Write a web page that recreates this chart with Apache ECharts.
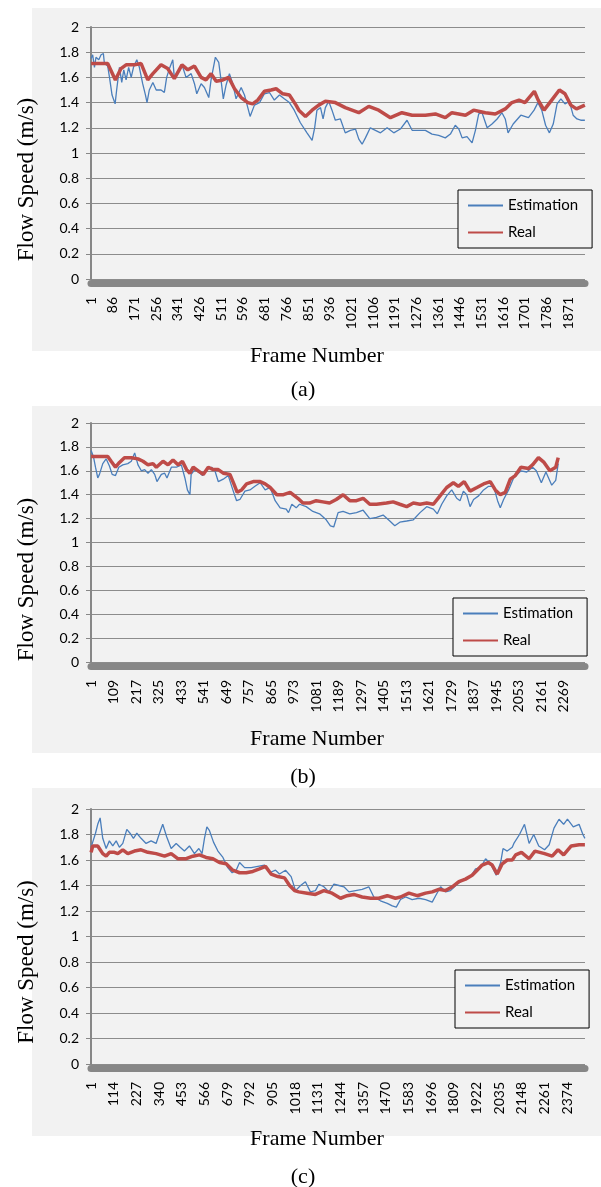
<!DOCTYPE html>
<html>
<head>
    <meta charset="utf-8">
    <title>Flow Speed</title>
    <script src="https://cdn.jsdelivr.net/npm/echarts/dist/echarts.min.js"></script>
</head>
<body style="margin: 0; background: #fff">
<div id="main" style="width: 601px; height: 1187px"></div>

<script type="text/javascript">
    // frame counts of each clip (category axis length) and label step
    var framesA = 1936, stepA = 85;
    var framesB = 2370, stepB = 108;
    var framesC = 2462, stepC = 113;

    // [frame index, speed]
    var estA = [[0,1.75],[6,1.78],[13,1.68],[19,1.76],[30,1.74],[39,1.78],[48,1.79],[52,1.71],[65,1.69],[72,1.60],[82,1.46],[94,1.39],[100,1.50],[111,1.68],[120,1.56],[128,1.66],[137,1.58],[147,1.68],[157,1.60],[166,1.68],[179,1.74],[189,1.68],[202,1.55],[213,1.46],[219,1.40],[228,1.50],[242,1.56],[255,1.50],[274,1.50],[287,1.48],[296,1.60],[307,1.67],[320,1.74],[326,1.60],[340,1.63],[356,1.70],[372,1.60],[392,1.63],[405,1.55],[414,1.47],[431,1.55],[444,1.52],[461,1.44],[470,1.58],[487,1.76],[500,1.72],[509,1.58],[518,1.43],[529,1.54],[542,1.63],[555,1.55],[568,1.43],[588,1.52],[601,1.46],[614,1.36],[623,1.29],[640,1.38],[660,1.40],[679,1.47],[699,1.48],[718,1.42],[738,1.46],[757,1.43],[777,1.40],[796,1.34],[820,1.24],[846,1.16],[866,1.10],[876,1.20],[885,1.34],[899,1.36],[909,1.27],[918,1.36],[931,1.41],[944,1.34],[957,1.26],[977,1.27],[996,1.16],[1016,1.18],[1036,1.19],[1049,1.11],[1062,1.07],[1075,1.12],[1094,1.20],[1114,1.18],[1134,1.16],[1160,1.20],[1186,1.16],[1212,1.19],[1238,1.26],[1258,1.18],[1284,1.18],[1310,1.18],[1336,1.15],[1362,1.14],[1388,1.12],[1408,1.15],[1427,1.22],[1441,1.19],[1454,1.12],[1473,1.13],[1493,1.08],[1506,1.18],[1519,1.31],[1532,1.32],[1552,1.20],[1571,1.23],[1591,1.27],[1610,1.32],[1623,1.27],[1634,1.16],[1654,1.23],[1684,1.30],[1714,1.28],[1736,1.34],[1751,1.40],[1766,1.34],[1781,1.22],[1796,1.16],[1811,1.23],[1826,1.39],[1841,1.43],[1857,1.39],[1874,1.41],[1889,1.30],[1904,1.27],[1919,1.26],[1935,1.26]];
    var realA = [[0,1.71],[65,1.71],[95,1.58],[117,1.67],[137,1.70],[170,1.70],[196,1.71],[222,1.58],[242,1.63],[274,1.70],[300,1.67],[326,1.59],[356,1.70],[379,1.66],[405,1.69],[431,1.60],[450,1.58],[470,1.63],[490,1.57],[516,1.58],[539,1.60],[562,1.51],[588,1.44],[614,1.40],[633,1.39],[653,1.42],[679,1.49],[705,1.50],[725,1.51],[751,1.47],[777,1.46],[803,1.38],[814,1.34],[840,1.29],[866,1.34],[892,1.38],[918,1.41],[957,1.40],[996,1.36],[1049,1.32],[1088,1.37],[1127,1.34],[1173,1.28],[1218,1.32],[1258,1.30],[1310,1.30],[1349,1.31],[1388,1.28],[1414,1.32],[1467,1.30],[1499,1.34],[1545,1.32],[1584,1.31],[1623,1.35],[1649,1.40],[1677,1.42],[1700,1.40],[1737,1.49],[1752,1.42],[1775,1.34],[1805,1.42],[1835,1.50],[1857,1.47],[1880,1.38],[1902,1.35],[1935,1.38]];

    var estB = [[0,1.77],[11,1.72],[21,1.63],[32,1.54],[40,1.57],[56,1.66],[72,1.70],[88,1.64],[101,1.57],[117,1.56],[133,1.63],[152,1.65],[176,1.66],[193,1.68],[209,1.75],[225,1.65],[241,1.60],[257,1.61],[273,1.58],[289,1.61],[305,1.57],[316,1.51],[337,1.57],[353,1.58],[364,1.54],[385,1.63],[409,1.63],[433,1.65],[450,1.54],[462,1.44],[474,1.40],[480,1.57],[498,1.61],[522,1.58],[535,1.56],[554,1.61],[578,1.63],[594,1.60],[610,1.51],[634,1.53],[658,1.56],[682,1.43],[698,1.35],[714,1.36],[738,1.43],[762,1.44],[786,1.47],[811,1.50],[835,1.44],[859,1.46],[883,1.35],[907,1.29],[936,1.28],[947,1.25],[963,1.32],[984,1.29],[1000,1.32],[1032,1.30],[1064,1.26],[1096,1.24],[1128,1.19],[1148,1.14],[1164,1.13],[1185,1.25],[1209,1.26],[1241,1.24],[1273,1.25],[1305,1.27],[1337,1.20],[1369,1.21],[1401,1.23],[1433,1.18],[1457,1.14],[1481,1.17],[1514,1.18],[1546,1.19],[1578,1.25],[1610,1.30],[1642,1.28],[1661,1.24],[1682,1.32],[1706,1.39],[1730,1.44],[1754,1.37],[1770,1.35],[1786,1.43],[1802,1.40],[1818,1.30],[1835,1.36],[1859,1.39],[1883,1.44],[1907,1.47],[1931,1.47],[1950,1.35],[1963,1.29],[1979,1.36],[2003,1.44],[2027,1.54],[2035,1.53],[2062,1.60],[2090,1.59],[2118,1.63],[2136,1.60],[2160,1.50],[2182,1.59],[2210,1.48],[2229,1.52],[2241,1.66]];
    var realB = [[0,1.72],[80,1.72],[96,1.68],[117,1.63],[136,1.67],[160,1.71],[193,1.71],[225,1.70],[249,1.68],[273,1.65],[297,1.66],[313,1.63],[345,1.68],[369,1.65],[393,1.69],[417,1.65],[438,1.68],[458,1.61],[474,1.58],[490,1.63],[514,1.60],[538,1.57],[562,1.63],[586,1.61],[610,1.61],[634,1.58],[666,1.57],[685,1.49],[701,1.42],[722,1.44],[746,1.49],[778,1.51],[811,1.51],[835,1.49],[859,1.46],[891,1.40],[923,1.40],[955,1.42],[992,1.37],[1016,1.33],[1048,1.33],[1080,1.35],[1112,1.34],[1144,1.33],[1176,1.36],[1209,1.40],[1241,1.35],[1273,1.35],[1305,1.37],[1337,1.32],[1369,1.32],[1417,1.33],[1449,1.34],[1481,1.32],[1514,1.30],[1546,1.33],[1578,1.32],[1610,1.33],[1642,1.32],[1674,1.39],[1706,1.46],[1738,1.50],[1762,1.47],[1790,1.51],[1818,1.43],[1851,1.46],[1883,1.49],[1915,1.51],[1939,1.44],[1963,1.40],[1987,1.42],[2011,1.53],[2035,1.56],[2062,1.63],[2099,1.62],[2118,1.65],[2146,1.71],[2173,1.67],[2201,1.60],[2229,1.63],[2241,1.71]];

    var estC = [[0,1.70],[8,1.74],[22,1.81],[33,1.88],[45,1.93],[58,1.77],[75,1.69],[91,1.75],[108,1.71],[125,1.75],[141,1.70],[158,1.73],[178,1.84],[194,1.81],[211,1.77],[228,1.81],[249,1.77],[274,1.73],[299,1.75],[324,1.73],[341,1.81],[357,1.88],[377,1.78],[399,1.69],[424,1.73],[444,1.70],[465,1.67],[490,1.71],[515,1.65],[537,1.69],[553,1.65],[565,1.77],[577,1.86],[590,1.83],[610,1.74],[632,1.67],[657,1.62],[681,1.54],[703,1.50],[723,1.52],[740,1.58],[765,1.54],[798,1.54],[831,1.55],[864,1.56],[889,1.50],[919,1.52],[939,1.49],[969,1.52],[997,1.47],[1019,1.36],[1044,1.40],[1068,1.43],[1093,1.35],[1118,1.36],[1135,1.41],[1160,1.39],[1185,1.35],[1210,1.41],[1235,1.40],[1260,1.39],[1285,1.35],[1318,1.36],[1351,1.37],[1384,1.39],[1409,1.31],[1442,1.28],[1476,1.26],[1501,1.24],[1521,1.23],[1542,1.29],[1567,1.31],[1600,1.29],[1634,1.30],[1667,1.29],[1700,1.27],[1717,1.32],[1742,1.39],[1767,1.35],[1791,1.36],[1825,1.41],[1858,1.45],[1891,1.47],[1916,1.53],[1941,1.54],[1966,1.61],[1991,1.57],[2019,1.48],[2041,1.58],[2053,1.69],[2074,1.67],[2099,1.70],[2107,1.73],[2135,1.80],[2160,1.88],[2183,1.73],[2206,1.80],[2231,1.71],[2260,1.68],[2283,1.72],[2307,1.85],[2332,1.92],[2355,1.88],[2374,1.92],[2403,1.86],[2432,1.88],[2451,1.80],[2461,1.77]];
    var realC = [[0,1.66],[8,1.71],[33,1.71],[58,1.65],[75,1.63],[91,1.66],[116,1.66],[133,1.65],[158,1.68],[183,1.65],[216,1.67],[249,1.68],[283,1.66],[324,1.65],[366,1.63],[399,1.65],[432,1.61],[474,1.61],[507,1.63],[540,1.64],[573,1.62],[607,1.61],[640,1.58],[673,1.57],[706,1.52],[740,1.50],[773,1.50],[806,1.51],[839,1.53],[869,1.55],[897,1.49],[931,1.47],[964,1.46],[989,1.40],[1014,1.36],[1035,1.35],[1077,1.34],[1118,1.33],[1160,1.36],[1201,1.34],[1243,1.30],[1276,1.32],[1309,1.33],[1351,1.31],[1393,1.30],[1434,1.30],[1476,1.32],[1517,1.30],[1542,1.31],[1584,1.34],[1625,1.32],[1667,1.34],[1700,1.35],[1733,1.37],[1767,1.36],[1800,1.39],[1833,1.43],[1866,1.45],[1899,1.48],[1924,1.52],[1949,1.56],[1979,1.58],[1999,1.56],[2024,1.49],[2049,1.57],[2074,1.60],[2099,1.60],[2116,1.64],[2145,1.66],[2183,1.61],[2212,1.67],[2260,1.65],[2298,1.63],[2327,1.68],[2355,1.64],[2393,1.71],[2432,1.72],[2461,1.72]];

    var seriesNames = ['Estimation', 'Real'];
    var panelTags = ['(a)', '(b)', '(c)'];

    function frameLabels(n) {
        var arr = [];
        for (var i = 1; i <= n; i++) {
            arr.push(String(i));
        }
        return arr;
    }

    // layout of the three panels (pixels)
    var panels = [
        {frames: framesA, step: stepA, est: estA, real: realA, top: 27, height: 252, bgTop: 8, bgH: 343, legTop: 190, legLeft: 458, nameY: 356, tagY: 390},
        {frames: framesB, step: stepB, est: estB, real: realB, top: 423, height: 239, bgTop: 406, bgH: 347, legTop: 598, legLeft: 453, nameY: 739, tagY: 777},
        {frames: framesC, step: stepC, est: estC, real: realC, top: 809, height: 255, bgTop: 788, bgH: 348, legTop: 970, legLeft: 455, nameY: 1139, tagY: 1177}
    ];

    var axisGray = '#878787';
    var labelFont = 'Lato';
    var serifFont = '"Liberation Serif", "Times New Roman", serif';

    var grid = [], xAxis = [], yAxis = [], series = [], legend = [], graphic = [];

    panels.forEach(function (p, i) {
        grid.push({left: 91, width: 494, top: p.top, height: p.height, outerBoundsMode: 'none'});

        xAxis.push({
            type: 'category',
            gridIndex: i,
            data: frameLabels(p.frames),
            boundaryGap: true,
            offset: 4,
            axisLine: {onZero: false, lineStyle: {color: axisGray, width: 7}},
            axisTick: {show: false},
            axisLabel: {interval: p.step - 1, rotate: 90, margin: 14, fontFamily: labelFont, fontSize: 14, color: '#000'},
            splitLine: {show: false}
        });

        yAxis.push({
            type: 'value',
            gridIndex: i,
            min: 0,
            max: 2,
            interval: 0.2,
            axisLine: {show: true, lineStyle: {color: axisGray, width: 2}},
            axisTick: {show: true, length: 5, lineStyle: {color: axisGray}},
            axisLabel: {margin: 12, fontFamily: labelFont, fontSize: 14, color: '#000'},
            splitLine: {lineStyle: {color: '#8c8c8c', width: 1}}
        });

        series.push({
            name: seriesNames[0], type: 'line', xAxisIndex: i, yAxisIndex: i,
            data: p.est, symbol: 'none', silent: true,
            lineStyle: {color: '#4a7ebb', width: 1.3}, itemStyle: {color: '#4a7ebb'}
        });
        series.push({
            name: seriesNames[1], type: 'line', xAxisIndex: i, yAxisIndex: i,
            data: p.real, symbol: 'none', silent: true,
            lineStyle: {color: '#be4b48', width: 3.5}, itemStyle: {color: '#be4b48'}
        });

        legend.push({
            orient: 'vertical',
            left: p.legLeft,
            top: p.legTop,
            data: seriesNames,
            backgroundColor: '#f2f2f2',
            borderColor: '#000',
            borderWidth: 1,
            borderRadius: 0,
            padding: [8, 14, 8, 9],
            itemWidth: 35,
            itemHeight: 14,
            itemGap: 12,
            itemStyle: {opacity: 0},
            textStyle: {fontFamily: labelFont, fontSize: 15, color: '#000'}
        });

        graphic.push({
            type: 'rect', z: -10, silent: true,
            shape: {x: 32, y: p.bgTop, width: 569, height: p.bgH},
            style: {fill: '#f2f2f2'}
        });
        graphic.push({
            type: 'text', x: 27, y: p.bgTop + p.bgH / 2, rotation: Math.PI / 2, z: 10,
            style: {text: 'Flow Speed (m/s)', font: '23px ' + serifFont, fill: '#000',
                align: 'center', verticalAlign: 'middle', textAlign: 'center', textVerticalAlign: 'middle'}
        });
        graphic.push({
            type: 'text', x: 317, y: p.nameY, z: 10,
            style: {text: 'Frame Number', font: '22px ' + serifFont, fill: '#000',
                align: 'center', verticalAlign: 'middle', textAlign: 'center', textVerticalAlign: 'middle'}
        });
        graphic.push({
            type: 'text', x: 303, y: p.tagY, z: 10,
            style: {text: panelTags[i], font: '22px ' + serifFont, fill: '#000',
                align: 'center', verticalAlign: 'middle', textAlign: 'center', textVerticalAlign: 'middle'}
        });
    });

    var myChart = echarts.init(document.getElementById('main'));

    var option = {
        animation: false,
        backgroundColor: '#fff',
        grid: grid,
        xAxis: xAxis,
        yAxis: yAxis,
        legend: legend,
        graphic: graphic,
        series: series
    };
    myChart.setOption(option, true);
</script>
</body>
</html>
